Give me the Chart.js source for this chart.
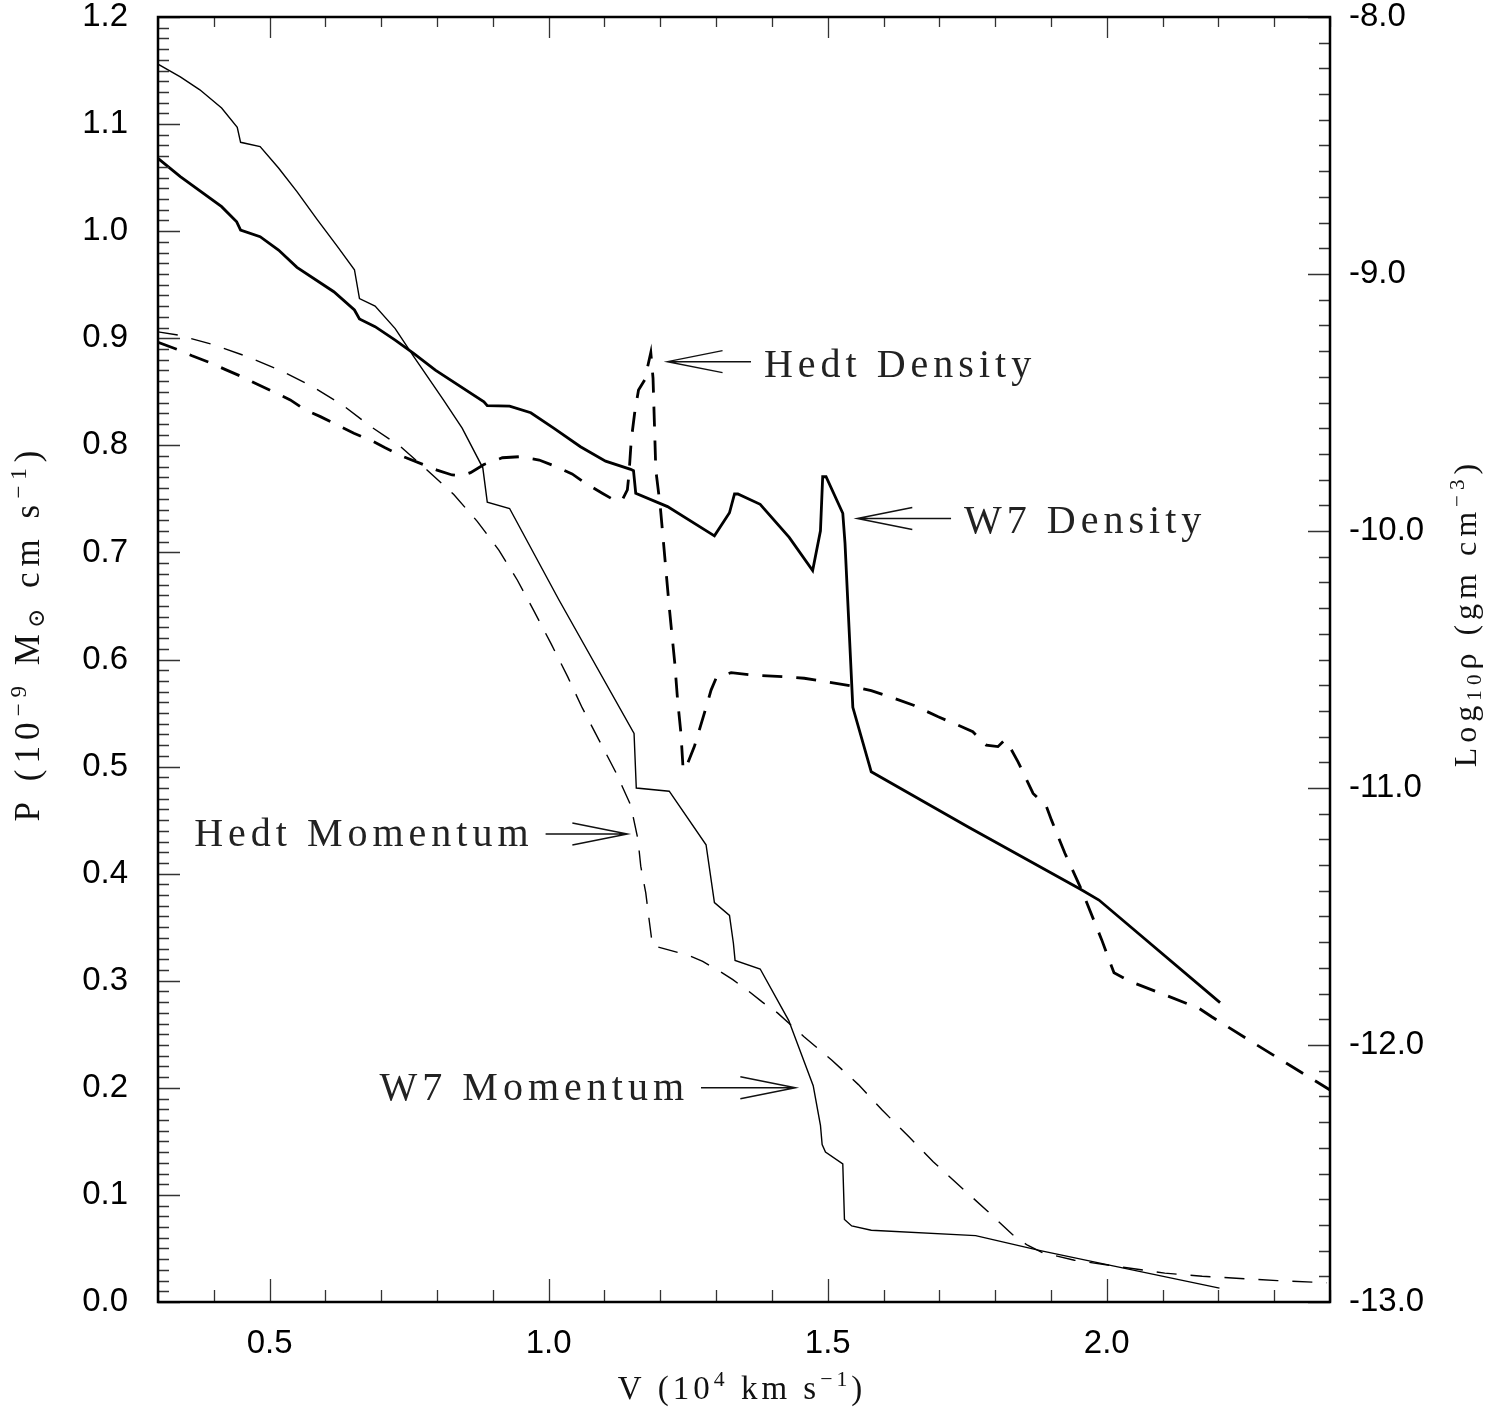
<!DOCTYPE html>
<html>
<head>
<meta charset="utf-8">
<script src="https://cdn.jsdelivr.net/npm/chart.js"></script>
<style>
  html, body { margin: 0; padding: 0; background: #fff; }
</style>
</head>
<body>
<canvas id="chart" width="1502" height="1416"></canvas>
<script>
// velocity in units of 1e4 km/s
const w7MomV = [0.300, 0.340, 0.375, 0.414, 0.442, 0.448, 0.483, 0.516, 0.549, 0.585, 0.621, 0.652, 0.661, 0.689, 0.725, 0.758, 0.812, 0.845, 0.882, 0.890, 0.930, 1.018, 1.153, 1.157, 1.216, 1.282, 1.297, 1.324, 1.331, 1.334, 1.379, 1.430, 1.474, 1.487, 1.490, 1.496, 1.527, 1.530, 1.543, 1.578, 1.765, 1.881, 2.009, 2.202];
// momentum, 1e-9 Msun cm/s
const w7MomP = [1.156, 1.144, 1.132, 1.115, 1.097, 1.083, 1.079, 1.059, 1.037, 1.011, 0.986, 0.964, 0.937, 0.930, 0.909, 0.883, 0.842, 0.816, 0.779, 0.747, 0.741, 0.656, 0.531, 0.480, 0.477, 0.427, 0.373, 0.361, 0.335, 0.319, 0.311, 0.263, 0.202, 0.165, 0.147, 0.140, 0.129, 0.077, 0.071, 0.067, 0.062, 0.048, 0.034, 0.013];

const hedtMomV = [0.300, 0.336, 0.399, 0.459, 0.519, 0.576, 0.630, 0.680, 0.734, 0.782, 0.830, 0.872, 0.911, 0.944, 0.974, 1.004, 1.034, 1.060, 1.090, 1.120, 1.147, 1.160, 1.165, 1.174, 1.180, 1.186, 1.213, 1.249, 1.276, 1.303, 1.330, 1.359, 1.383, 1.410, 1.457, 1.507, 1.555, 1.598, 1.646, 1.689, 1.737, 1.784, 1.831, 1.858, 1.885, 1.942, 2.036, 2.104, 2.171, 2.239, 2.306, 2.394];
const hedtMomP = [0.906, 0.903, 0.894, 0.883, 0.870, 0.855, 0.838, 0.818, 0.799, 0.777, 0.754, 0.729, 0.702, 0.674, 0.645, 0.615, 0.584, 0.555, 0.525, 0.495, 0.464, 0.432, 0.407, 0.382, 0.357, 0.333, 0.329, 0.324, 0.318, 0.310, 0.301, 0.290, 0.280, 0.270, 0.248, 0.226, 0.203, 0.179, 0.154, 0.131, 0.108, 0.086, 0.063, 0.053, 0.046, 0.039, 0.032, 0.027, 0.024, 0.022, 0.020, 0.018];

// log10 density, g/cm^3
const w7DenV = [0.300, 0.340, 0.414, 0.441, 0.448, 0.483, 0.516, 0.549, 0.615, 0.652, 0.661, 0.689, 0.725, 0.758, 0.797, 0.884, 0.890, 0.930, 0.968, 1.009, 1.057, 1.102, 1.147, 1.152, 1.156, 1.213, 1.297, 1.324, 1.333, 1.339, 1.379, 1.431, 1.473, 1.487, 1.491, 1.497, 1.527, 1.531, 1.545, 1.578, 1.751, 1.953, 1.986, 2.203];
const w7DenL = [-8.550, -8.621, -8.738, -8.797, -8.829, -8.855, -8.907, -8.974, -9.069, -9.140, -9.175, -9.205, -9.257, -9.309, -9.374, -9.497, -9.512, -9.514, -9.540, -9.600, -9.672, -9.728, -9.760, -9.765, -9.853, -9.905, -10.019, -9.929, -9.856, -9.856, -9.896, -10.025, -10.154, -9.999, -9.789, -9.789, -9.931, -10.048, -10.686, -10.937, -11.151, -11.394, -11.436, -11.835];

const hedtDenV = [0.300, 0.334, 0.361, 0.393, 0.420, 0.453, 0.477, 0.510, 0.537, 0.564, 0.591, 0.624, 0.651, 0.684, 0.707, 0.740, 0.782, 0.800, 0.827, 0.845, 0.860, 0.884, 0.917, 0.947, 0.983, 1.009, 1.042, 1.066, 1.096, 1.120, 1.132, 1.141, 1.144, 1.148, 1.154, 1.161, 1.172, 1.183, 1.187, 1.192, 1.200, 1.216, 1.226, 1.231, 1.237, 1.241, 1.249, 1.261, 1.279, 1.291, 1.300, 1.327, 1.362, 1.422, 1.458, 1.542, 1.578, 1.614, 1.655, 1.698, 1.733, 1.760, 1.784, 1.805, 1.817, 1.826, 1.841, 1.868, 1.892, 1.901, 1.925, 1.955, 1.991, 2.001, 2.013, 2.040, 2.097, 2.165, 2.188, 2.269, 2.400];
const hedtDenL = [-9.266, -9.293, -9.318, -9.345, -9.371, -9.402, -9.428, -9.462, -9.490, -9.529, -9.555, -9.591, -9.620, -9.650, -9.676, -9.711, -9.747, -9.763, -9.782, -9.785, -9.773, -9.741, -9.715, -9.711, -9.724, -9.746, -9.778, -9.814, -9.853, -9.883, -9.879, -9.840, -9.776, -9.646, -9.542, -9.451, -9.412, -9.306, -9.405, -9.763, -9.905, -10.295, -10.515, -10.658, -10.787, -10.930, -10.904, -10.839, -10.709, -10.619, -10.573, -10.551, -10.560, -10.567, -10.573, -10.603, -10.621, -10.647, -10.679, -10.723, -10.755, -10.781, -10.833, -10.839, -10.813, -10.839, -10.898, -11.021, -11.073, -11.125, -11.254, -11.397, -11.591, -11.650, -11.719, -11.751, -11.799, -11.857, -11.890, -12.000, -12.175];

const xTicks = [0.5, 1.0, 1.5, 2.0];
const pTicks = [0.0, 0.1, 0.2, 0.3, 0.4, 0.5, 0.6, 0.7, 0.8, 0.9, 1.0, 1.1, 1.2];
const rhoTicks = [-13, -12, -11, -10, -9, -8];

// labelled arrows: tip (v, value on the given axis), tail velocity, text side
const notes = [
  { text: 'Hedt Density',  axis: 'y2', tipV: 1.213, tipY: -9.341, tailV: 1.3625, side: 'right' },
  { text: 'W7 Density',    axis: 'y2', tipV: 1.553, tipY: -9.951, tailV: 1.721,  side: 'right' },
  { text: 'Hedt Momentum', axis: 'y',  tipV: 1.141, tipY: 0.437,  tailV: 0.9945, side: 'left' },
  { text: 'W7 Momentum',   axis: 'y',  tipV: 1.442, tipY: 0.200,  tailV: 1.273,  side: 'left' }
];

const pts = (xs, ys) => xs.map((x, i) => ({ x, y: ys[i] }));

const SERIF = '"Liberation Serif", "DejaVu Serif", serif';
const SANS = '"Liberation Sans", Arial, sans-serif';

// draws a run of text with super/subscripts, returns its width when dry
function richText(ctx, parts, x, y, size, dry) {
  let cx = x;
  for (const p of parts) {
    const [str, kind] = Array.isArray(p) ? p : [p, 'n'];
    const s = kind === 'n' ? size : size * 0.66;
    const dy = kind === 'sup' ? -size * 0.3 : kind === 'sub' ? size * 0.22 : 0;
    ctx.font = `${s}px ${SERIF}`;
    if (!dry) ctx.fillText(str, cx, y + dy);
    cx += ctx.measureText(str).width;
  }
  return cx - x;
}

function centeredRich(ctx, parts, cx, cy, size, spacing, rot) {
  ctx.save();
  ctx.translate(cx, cy);
  ctx.rotate(rot);
  ctx.textBaseline = 'middle';
  ctx.textAlign = 'left';
  ctx.letterSpacing = spacing + 'px';
  const w = richText(ctx, parts, 0, 0, size, true);
  richText(ctx, parts, -w / 2, 0, size, false);
  ctx.restore();
}

// keep the plot frame exactly where the layout puts it
const noEdgePad = s => { s.paddingTop = 0; s.paddingBottom = 0; s.paddingLeft = 0; s.paddingRight = 0; };

const decorations = {
  id: 'decorations',
  afterDraw(chart) {
    const { ctx, chartArea: a, scales } = chart;
    const { x, y, y2 } = scales;
    ctx.save();

    // inward tick marks on all four sides
    ctx.strokeStyle = '#333';
    ctx.lineWidth = 1.3;
    ctx.beginPath();
    for (let i = 3; i <= 24; i++) {
      const px = Math.round(x.getPixelForValue(i / 10)) + 0.5;
      const len = i % 5 === 0 ? 23 : 12;
      ctx.moveTo(px, a.bottom); ctx.lineTo(px, a.bottom - len);
      ctx.moveTo(px, a.top); ctx.lineTo(px, a.top + len - 2);
    }
    for (let i = 0; i <= 120; i++) {
      const py = Math.round(y.getPixelForValue(i / 100)) + 0.5;
      const len = i % 10 === 0 ? 22 : 11;
      ctx.moveTo(a.left, py); ctx.lineTo(a.left + len, py);
    }
    for (let i = -130; i <= -80; i++) {
      const py = Math.round(y2.getPixelForValue(i / 10)) + 0.5;
      const len = i % 10 === 0 ? 22 : 11;
      ctx.moveTo(a.right, py); ctx.lineTo(a.right - len, py);
    }
    ctx.stroke();

    // frame
    ctx.strokeStyle = '#000';
    ctx.lineWidth = 2.5;
    ctx.strokeRect(a.left, a.top, a.right - a.left, a.bottom - a.top);

    // arrows with their labels
    ctx.fillStyle = '#222';
    ctx.strokeStyle = '#111';
    ctx.lineWidth = 1.5;
    for (const n of notes) {
      const tx = x.getPixelForValue(n.tipV);
      const ty = scales[n.axis].getPixelForValue(n.tipY);
      const bx = x.getPixelForValue(n.tailV);
      const dir = bx > tx ? 1 : -1;
      ctx.beginPath();
      ctx.moveTo(bx, ty); ctx.lineTo(tx, ty);
      ctx.moveTo(tx + dir * 55, ty - 11); ctx.lineTo(tx, ty); ctx.lineTo(tx + dir * 55, ty + 11);
      ctx.stroke();
      ctx.font = `40px ${SERIF}`;
      ctx.letterSpacing = '5px';
      ctx.textBaseline = 'alphabetic';
      if (n.side === 'right') {
        ctx.textAlign = 'left';
        ctx.fillText(n.text, bx + 13, ty + 15);
      } else {
        ctx.textAlign = 'right';
        ctx.fillText(n.text, bx - 12, ty + 12);
      }
    }
    ctx.letterSpacing = '0px';

    // axis titles
    ctx.fillStyle = '#111';
    centeredRich(ctx, ['V (10', ['4', 'sup'], ' km s', ['\u22121', 'sup'], ')'],
      742, a.bottom + 88, 33, 4, 0);
    centeredRich(ctx, ['P (10', ['\u22129', 'sup'], ' M', ['\u2299', 'sub'], ' cm s', ['\u22121', 'sup'], ')'],
      30, 633, 35, 6, -Math.PI / 2);
    centeredRich(ctx, ['Log', ['10', 'sub'], '\u03c1 (gm cm', ['\u22123', 'sup'], ')'],
      1468, 613, 32, 5, -Math.PI / 2);
    ctx.restore();
  }
};

new Chart(document.getElementById('chart'), {
  type: 'scatter',
  data: {
    datasets: [
      { label: 'W7 Momentum', data: pts(w7MomV, w7MomP), yAxisID: 'y',
        borderColor: '#000', borderWidth: 1.4 },
      { label: 'Hedt Momentum', data: pts(hedtMomV, hedtMomP), yAxisID: 'y',
        borderColor: '#000', borderWidth: 1.4, borderDash: [20, 14] },
      { label: 'W7 Density', data: pts(w7DenV, w7DenL), yAxisID: 'y2',
        borderColor: '#000', borderWidth: 2.8 },
      { label: 'Hedt Density', data: pts(hedtDenV, hedtDenL), yAxisID: 'y2',
        borderColor: '#000', borderWidth: 2.8, borderDash: [20, 14] }
    ].map(d => ({ ...d, showLine: true, pointRadius: 0, tension: 0, fill: false }))
  },
  options: {
    responsive: false,
    devicePixelRatio: 1,
    animation: false,
    layout: { padding: { top: 17, left: 0, right: 0, bottom: 0 } },
    plugins: { legend: { display: false }, tooltip: { enabled: false } },
    scales: {
      x: {
        type: 'linear', position: 'bottom', min: 0.3, max: 2.4,
        grid: { display: false, drawTicks: false }, border: { display: false },
        afterBuildTicks: s => { s.ticks = xTicks.map(value => ({ value })); },
        afterFit: s => { s.height = 114; noEdgePad(s); },
        ticks: { padding: 22, color: '#000', font: { family: SANS, size: 33 },
          maxRotation: 0, callback: v => Number(v).toFixed(1) }
      },
      y: {
        type: 'linear', position: 'left', min: 0, max: 1.2,
        grid: { display: false, drawTicks: false }, border: { display: false },
        afterBuildTicks: s => { s.ticks = pTicks.map(value => ({ value })); },
        afterFit: s => { s.width = 158; noEdgePad(s); },
        ticks: { padding: 30, color: '#000', font: { family: SANS, size: 33 },
          callback: v => Number(v).toFixed(1) }
      },
      y2: {
        type: 'linear', position: 'right', min: -13, max: -8,
        grid: { display: false, drawTicks: false }, border: { display: false },
        afterBuildTicks: s => { s.ticks = rhoTicks.map(value => ({ value })); },
        afterFit: s => { s.width = 172; noEdgePad(s); },
        ticks: { padding: 19, color: '#000', font: { family: SANS, size: 33 },
          callback: v => Number(v).toFixed(1) }
      }
    }
  },
  plugins: [decorations]
});
</script>
</body>
</html>
